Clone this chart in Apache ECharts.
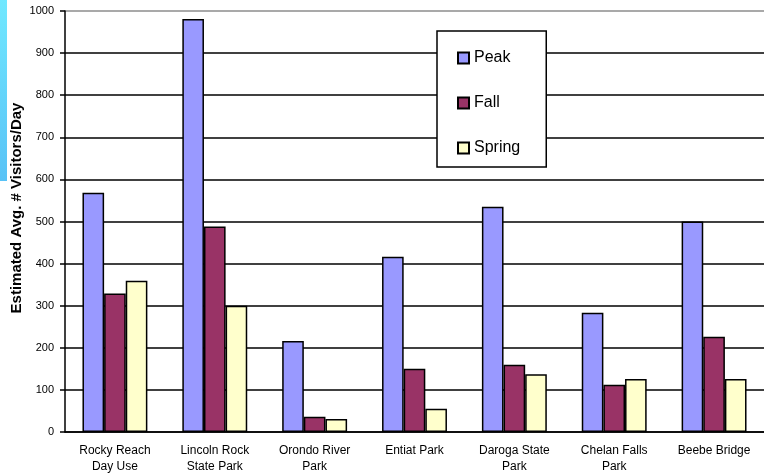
<!DOCTYPE html>
<html>
<head>
<meta charset="utf-8">
<script src="https://cdn.jsdelivr.net/npm/echarts@6/dist/echarts.min.js"></script>
<style>html,body{margin:0;padding:0;background:#fff}#c{width:764px;height:476px}</style>
</head>
<body>
<div id="c"></div>
<script>
const categories = ["Rocky Reach\nDay Use", "Lincoln Rock\nState Park", "Orondo River\nPark", "Entiat Park", "Daroga State\nPark", "Chelan Falls\nPark", "Beebe Bridge"];
const peak = [568, 981, 216, 416, 535, 283, 500];
const fall = [329, 488, 36, 150, 160, 112, 226];
const spring = [359, 300, 31, 55, 137, 126, 126];
const yTicks = [0, 100, 200, 300, 400, 500, 600, 700, 800, 900, 1000];
const yTitle = 'Estimated Avg. # Visitors/Day';

const chart = echarts.init(document.getElementById('c'), null, {renderer: 'canvas'});
const font = 'Arial, "Liberation Sans", sans-serif';
const gridColors = yTicks.map((v, i) => i === yTicks.length - 1 ? '#8c8c8c' : '#000');
function bar(name, data, color) {
  return {
    name, type: 'bar', data,
    barGap: '0%', barCategoryGap: '35%',
    itemStyle: {color, borderColor: '#000', borderWidth: 1.5},
    emphasis: {disabled: true}, animation: false
  };
}
chart.setOption({
  animation: false,
  textStyle: {fontFamily: font},
  graphic: [{
    type: 'rect', left: 0, top: 0, shape: {width: 7, height: 181},
    style: {fill: new echarts.graphic.LinearGradient(0, 0, 0, 1, [{offset: 0, color: '#70e8ff'}, {offset: 1, color: '#58c2f6'}])}
  }, {
    type: 'text', x: 17, y: 208, rotation: Math.PI / 2,
    style: {text: yTitle, font: 'bold 15px ' + font, fill: '#000', align: 'center', verticalAlign: 'middle'}
  }],
  grid: {left: 65, top: 11, width: 700, height: 421},
  legend: {
    orient: 'vertical', left: 437, top: 31,
    data: ['Peak', 'Fall', 'Spring'],
    icon: 'rect',
    itemWidth: 11, itemHeight: 11, itemGap: 29,
    padding: [19, 26, 11, 20],
    backgroundColor: '#fff', borderColor: '#000', borderWidth: 1.5,
    textStyle: {fontSize: 16, color: '#000', fontFamily: font},
    selectedMode: false
  },
  xAxis: {
    type: 'category', data: categories,
    axisLine: {lineStyle: {color: '#000', width: 1.5}},
    axisTick: {length: 4, lineStyle: {color: '#000', width: 1.5}},
    axisLabel: {fontSize: 12, color: '#000', margin: 11, lineHeight: 16, interval: 0}
  },
  yAxis: {
    type: 'value', min: 0, max: 1000, interval: 100,
    axisLine: {show: true, lineStyle: {color: '#000', width: 1.5}},
    axisTick: {show: true, length: 5, lineStyle: {color: '#000', width: 1.5}},
    axisLabel: {fontSize: 11, color: '#000', margin: 11, formatter: v => String(v)},
    splitLine: {lineStyle: {color: gridColors, width: 1.5}}
  },
  series: [bar('Peak', peak, '#9999ff'), bar('Fall', fall, '#993366'), bar('Spring', spring, '#ffffcc')]
});
</script>
</body>
</html>
